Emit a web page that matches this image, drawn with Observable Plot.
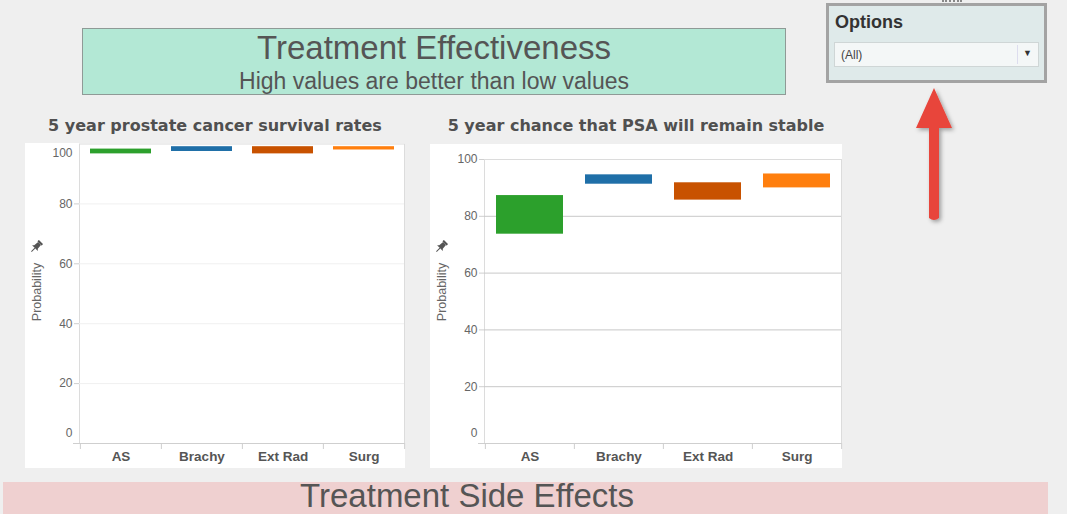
<!DOCTYPE html>
<html>
<head>
<meta charset="utf-8">
<script src="https://cdn.jsdelivr.net/npm/d3@7"></script>
<script src="https://cdn.jsdelivr.net/npm/@observablehq/plot@0.6"></script>
<style>
  html, body { margin:0; padding:0; background:#efefef; }
  #page { position:relative; width:1067px; height:514px; overflow:hidden; background:#efefef; font-family:"Liberation Sans", Arial, sans-serif; }
  .abs { position:absolute; }
  #header { left:82px; top:28px; width:702px; height:65px; background:#b3e8d5; border:1px solid #8f9a96; text-align:center; color:#555; font-family:"Liberation Sans Narrow","Arial Narrow","Liberation Sans",sans-serif; }
  #header .t1 { position:absolute; left:0; right:0; top:1px; font-size:33px; line-height:36px; }
  #header .t2 { position:absolute; left:0; right:0; top:40px; font-size:23px; line-height:24px; }
  .ctitle { font-family:"DejaVu Sans", sans-serif; font-weight:bold; font-size:16px; color:#505050; text-align:center; }
  .ylab { font-size:12.5px; color:#666; transform:rotate(-90deg); transform-origin:center center; white-space:nowrap; }
  #options { left:826px; top:3px; width:215px; height:74px; background:#dfeaea; border:3px solid #a3a3a3; }
  #options .ot { position:absolute; left:6px; top:6px; font-weight:bold; font-size:18px; color:#333; }
  #options .dd { position:absolute; left:5px; top:36px; width:203px; height:23px; background:#f4f7f7; border:1px solid #cfd6d6; font-size:12px; color:#444; }
  #options .dd span { position:absolute; left:6px; top:5px; }
  #options .dd .sep { position:absolute; left:182px; top:2px; width:1px; height:19px; background:#dde; }
  #options .dd .arr { position:absolute; left:188px; top:5px; font-size:9px; color:#333; }
  #footer { left:3px; top:482px; width:1045px; height:40px; background:#efd0d0; }
  #footerText { left:0px; top:479px; width:934px; text-align:center; color:#555; font-family:"Liberation Sans Narrow","Arial Narrow","Liberation Sans",sans-serif; font-size:33px; line-height:33px; }
</style>
</head>
<body>
<div id="page">
  <div id="header" class="abs"><div class="t1">Treatment Effectiveness</div><div class="t2">High values are better than low values</div></div>
  <div class="abs ctitle" style="left:25px; top:116px; width:380px;">5 year prostate cancer survival rates</div>
  <div class="abs ctitle" style="left:430px; top:116px; width:412px;">5 year chance that PSA will remain stable</div>
  <div id="chart1" class="abs" style="left:25px; top:143px;"></div>
  <div id="chart2" class="abs" style="left:430px; top:144px;"></div>
  <div class="abs ylab" style="left:7px; top:285px; width:60px; text-align:center;">Probability</div>
  <div class="abs ylab" style="left:412px; top:285px; width:60px; text-align:center;">Probability</div>
  <svg class="abs" style="left:28px; top:239px;" width="16" height="16" viewBox="0 0 16 16"><g transform="rotate(45 8 8)" fill="#555"><rect x="5" y="1" width="6" height="2" rx="0.5"/><path d="M6 3 L10 3 L10.5 8 L12 9.5 L4 9.5 L5.5 8 Z"/><rect x="7.5" y="9.5" width="1" height="5"/></g></svg>
  <svg class="abs" style="left:433px; top:239px;" width="16" height="16" viewBox="0 0 16 16"><g transform="rotate(45 8 8)" fill="#555"><rect x="5" y="1" width="6" height="2" rx="0.5"/><path d="M6 3 L10 3 L10.5 8 L12 9.5 L4 9.5 L5.5 8 Z"/><rect x="7.5" y="9.5" width="1" height="5"/></g></svg>
  <div id="options" class="abs"><div class="ot">Options</div><div class="dd"><span>(All)</span><div class="sep"></div><div class="arr">&#9660;</div></div></div>
  <div class="abs" style="left:942px; top:0px; width:20px; height:2px; border-top:2px dotted #888;"></div>
  <svg class="abs" style="left:905px; top:80px;" width="60" height="150">
    <defs><filter id="sh" x="-50%" y="-50%" width="200%" height="200%"><feDropShadow dx="2" dy="2" stdDeviation="2" flood-color="#000" flood-opacity="0.35"/></filter></defs>
    <path d="M29 8 L47 48 L34 48 L34 138 Q29 142 24 138 L24 48 L11 48 Z" fill="#e8443a" filter="url(#sh)"/>
  </svg>
  <div id="footer" class="abs"></div>
  <div id="footerText" class="abs">Treatment Side Effects</div>
</div>
<script>
const treatments = ["AS", "Brachy", "Ext Rad", "Surg"];
const colors = ["#2ca02c", "#1f6fa8", "#c85200", "#ff7f0e"];
const survivalLow  = [96.7, 97.5, 96.7, 98.0];
const survivalHigh = [98.3, 99.1, 99.1, 99.1];
const psaLow  = [73.7, 91.3, 85.7, 90.0];
const psaHigh = [87.3, 94.6, 91.8, 94.9];
const midTicks = [20, 40, 60, 80];

function makeChart(low, high, opts) {
  const data = treatments.map((t, i) => ({t, lo: low[i], hi: high[i]}));
  const {width, height, marginTop, marginBottom, marginLeft, marginRight, grid, top100Inside} = opts;
  const step = (width - marginLeft - marginRight) / treatments.length;
  const marks = [
    Plot.frame({stroke: "#dcdcdc"}),
    Plot.gridY(midTicks, {stroke: grid, strokeOpacity: 1}),
    Plot.barY(data, {x: "t", y1: "lo", y2: "hi", fill: "t"}),
    Plot.ruleY([0], {stroke: "#cfcfcf", insetLeft: -6}),
    Plot.ruleX(treatments, {x: d => d, y1: 0, y2: 0, dx: -step / 2, insetBottom: -6, stroke: "#cfcfcf"}),
    Plot.ruleX([treatments[treatments.length - 1]], {x: d => d, y1: 0, y2: 0, dx: step / 2, insetBottom: -6, stroke: "#cfcfcf"}),
    Plot.axisY(midTicks, {tickSize: 5, tickPadding: 2, stroke: "#cfcfcf", fill: "#666", fontSize: 12, label: null}),
    Plot.axisY([0], {tickSize: 0, tickPadding: 7, dy: -10, fill: "#666", fontSize: 12, label: null}),
    top100Inside
      ? Plot.axisY([100], {tickSize: 0, tickPadding: 7, dy: 9, fill: "#666", fontSize: 12, label: null})
      : Plot.axisY([100], {tickSize: 5, tickPadding: 2, stroke: "#cfcfcf", fill: "#666", fontSize: 12, label: null}),
    Plot.axisX({tickSize: 0, tickPadding: 8, fill: "#555", fontSize: 13.5, fontWeight: "bold", label: null})
  ];
  return Plot.plot({
    width, height, marginTop, marginBottom, marginLeft, marginRight,
    style: {background: "#fff", fontFamily: "'Liberation Sans', Arial, sans-serif", overflow: "visible"},
    x: {domain: treatments, paddingInner: 0.25, paddingOuter: 0.125},
    y: {domain: [0, 100]},
    color: {domain: treatments, range: colors},
    marks
  });
}

document.getElementById("chart1").appendChild(makeChart(survivalLow, survivalHigh, {
  width: 380, height: 325, marginTop: 0.5, marginBottom: 25, marginLeft: 54, marginRight: 1,
  grid: "#f0f0f0", top100Inside: true
}));
document.getElementById("chart2").appendChild(makeChart(psaLow, psaHigh, {
  width: 412, height: 324, marginTop: 15, marginBottom: 25, marginLeft: 54, marginRight: 1,
  grid: "#c8c8c8", top100Inside: false
}));
</script>
</body>
</html>
